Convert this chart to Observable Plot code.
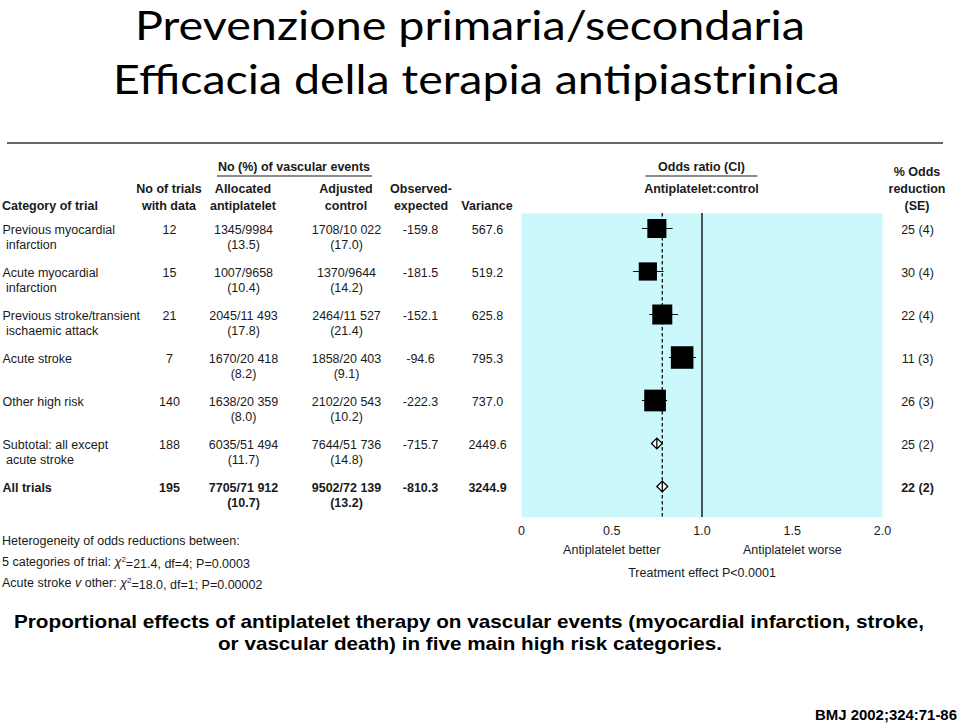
<!DOCTYPE html>
<html><head><meta charset="utf-8">
<script src="https://cdn.jsdelivr.net/npm/d3@7"></script>
<script src="https://cdn.jsdelivr.net/npm/@observablehq/plot@0.6"></script>
<style>
html,body{margin:0;padding:0;background:#fff;}
#page{position:relative;width:960px;height:723px;overflow:hidden;background:#fff;}
#chrome{position:absolute;left:0;top:0;}
#chart{position:absolute;left:0;top:145px;}
</style></head>
<body><div id="page"><svg id="chrome" width="960" height="723"></svg><div id="chart"></div></div>
<script>
// ---------- data ----------
const titleLines = ["Prevenzione primaria/secondaria", "Efficacia della terapia antipiastrinica"];
const captionLines = ["Proportional effects of antiplatelet therapy on vascular events (myocardial infarction, stroke,",
                      "or vascular death) in five main high risk categories."];
const citation = "BMJ 2002;324:71-86";

const categories = ["Previous myocardial\ninfarction", "Acute myocardial\ninfarction",
  "Previous stroke/transient\nischaemic attack", "Acute stroke", "Other high risk",
  "Subtotal: all except\nacute stroke", "All trials"];
const trialCounts = [12, 15, 21, 7, 140, 188, 195];
const apEvents = [1345, 1007, 2045, 1670, 1638, 6035, 7705];
const apTotal = [9984, 9658, 11493, 20418, 20359, 51494, 71912];
const apPct = [13.5, 10.4, 17.8, 8.2, 8.0, 11.7, 10.7];
const ctEvents = [1708, 1370, 2464, 1858, 2102, 7644, 9502];
const ctTotal = [10022, 9644, 11527, 20403, 20543, 51736, 72139];
const ctPct = [17.0, 14.2, 21.4, 9.1, 10.2, 14.8, 13.2];
const obsExp = [-159.8, -181.5, -152.1, -94.6, -222.3, -715.7, -810.3];
const variance = [567.6, 519.2, 625.8, 795.3, 737.0, 2449.6, 3244.9];
const oddsReduction = [25, 30, 22, 11, 26, 25, 22];
const reductionSE = [4, 4, 4, 3, 3, 2, 2];
const ciLow = [0.67, 0.62, 0.71, 0.82, 0.67, 0.72, 0.75];
const ciHigh = [0.84, 0.79, 0.87, 0.97, 0.81, 0.78, 0.81];
const rowKind = ["square", "square", "square", "square", "square", "diamond", "diamond"];
const boldRow = [false, false, false, false, false, false, true];

const axisTicks = [0, 0.5, 1, 1.5, 2];
const sideLabels = ["Antiplatelet better", "Antiplatelet worse"];
const sideAt = [0.5, 1.5];
const effectNote = "Treatment effect P<0.0001";

const hetTitle = "Heterogeneity of odds reductions between:";
const hetLabel = ["5 categories of trial: ", "Acute stroke "];
const hetChi = [21.4, 18.0];
const hetDf = [4, 1];
const hetP = ["0.0003", "0.00002"];

// ---------- helpers ----------
const fmtCount = n => n >= 10000 ? String(n).replace(/(\d+)(\d{3})$/, "$1 $2") : String(n);
const rows = categories.map((label, i) => ({
  id: String(i),
  label: label.replace("\n", "\n\u00a0"),
  trials: String(trialCounts[i]),
  ap: `${fmtCount(apEvents[i])}/${fmtCount(apTotal[i])}\n(${apPct[i].toFixed(1)})`,
  ct: `${fmtCount(ctEvents[i])}/${fmtCount(ctTotal[i])}\n(${ctPct[i].toFixed(1)})`,
  oe: obsExp[i].toFixed(1),
  vr: variance[i].toFixed(1),
  red: `${oddsReduction[i]} (${reductionSE[i]})`,
  or: 1 - oddsReduction[i] / 100,
  lo: ciLow[i], hi: ciHigh[i], variance: variance[i],
  kind: rowKind[i], bold: boldRow[i]
}));
const overallOR = rows[rows.length - 1].or;

// ---------- layout ----------
const W = 960, H = 450, ML = 521, MR = 78, MT = 68, MB = 78;
const FONT = "'Liberation Sans', Arial, Helvetica, sans-serif";
const colX = {label: 2, trials: 169, ap: 243, ct: 346, oe: 420, vr: 487, red: 917};

function column(field, x, anchor) {
  const base = {y: "id", text: field, frameAnchor: "left", dx: x - ML, textAnchor: anchor,
                lineAnchor: "top", dy: -4.5, lineHeight: 1.16, fill: "#1a1a1a"};
  return [
    Plot.text(rows.filter(d => !d.bold), base),
    Plot.text(rows.filter(d => d.bold), {...base, fontWeight: "bold"})
  ];
}

const diamondTick = {
  draw(context, size) {
    const r = Math.sqrt(size / Math.PI);
    context.moveTo(-r, 0); context.lineTo(0, -r); context.lineTo(r, 0); context.lineTo(0, r); context.closePath();
    context.moveTo(0, -r); context.lineTo(0, r);
  }
};

function headerMark(index, scales) {
  const sx = (scales && scales.x) ? scales.x : d3.scaleLinear([0, 2], [ML, W - MR]);
  const g = d3.create("svg:g").attr("fill", "#1a1a1a").attr("font-family", FONT);
  const hb = g.append("g").attr("font-weight", "bold").attr("font-size", 12.5);
  const T = (sel, x, y, s, anchor = "middle") =>
    sel.append("text").attr("x", x).attr("y", y).attr("dy", "0.36em").attr("text-anchor", anchor).text(s);
  // table headers
  T(hb, 294, 21, "No (%) of vascular events");
  g.append("line").attr("x1", 217).attr("x2", 372).attr("y1", 31).attr("y2", 31).attr("stroke", "#1a1a1a").attr("stroke-width", 1.2);
  T(hb, 2, 60, "Category of trial", "start");
  T(hb, colX.trials, 43, "No of trials"); T(hb, colX.trials, 60, "with data");
  T(hb, colX.ap, 43, "Allocated"); T(hb, colX.ap, 60, "antiplatelet");
  T(hb, colX.ct, 43, "Adjusted"); T(hb, colX.ct, 60, "control");
  T(hb, colX.oe + 1, 43, "Observed-"); T(hb, colX.oe + 1, 60, "expected");
  T(hb, colX.vr, 60, "Variance");
  const cx = sx(1);
  T(hb, cx, 21, "Odds ratio (CI)");
  g.append("line").attr("x1", cx - 56).attr("x2", cx + 56).attr("y1", 31).attr("y2", 31).attr("stroke", "#1a1a1a").attr("stroke-width", 1.2);
  T(hb, cx, 43, "Antiplatelet:control");
  T(hb, colX.red, 26, "% Odds"); T(hb, colX.red, 43, "reduction"); T(hb, colX.red, 60, "(SE)");
  // heterogeneity notes
  const hn = g.append("g").attr("font-size", 12.5);
  T(hn, 2, 395, hetTitle, "start");
  hetLabel.forEach((lab, i) => {
    const t = hn.append("text").attr("x", 2).attr("y", 416 + 21 * i).attr("dy", "0.36em").attr("text-anchor", "start");
    t.append("tspan").text(lab);
    if (i === 1) {
      t.append("tspan").attr("font-style", "italic").text("v");
      t.append("tspan").text(" other: ");
    }
    t.append("tspan").attr("font-style", "italic").text("\u03c7");
    t.append("tspan").attr("font-size", 8).attr("dy", "-0.45em").text("2");
    t.append("tspan").attr("dy", "0.45em").text(`=${hetChi[i].toFixed(1)}, df=${hetDf[i]}; P=${hetP[i]}`);
  });
  return g.node();
}

const squares = rows.filter(d => d.kind === "square");
const diamonds = rows.filter(d => d.kind === "diamond");

const chart = Plot.plot({
  width: W, height: H,
  marginLeft: ML, marginRight: MR, marginTop: MT, marginBottom: MB,
  style: {fontFamily: FONT, fontSize: "12.5px", color: "#1a1a1a", background: "transparent", overflow: "visible"},
  x: {domain: [0, 2], ticks: axisTicks, tickFormat: d => d === 0 ? "0" : d.toFixed(1), tickSize: 0, tickPadding: 9, label: null},
  y: {type: "point", domain: rows.map(d => d.id), range: [83, 341], padding: 0, axis: null},
  r: {type: "sqrt", domain: [0, 1000], range: [0, 14.27]},
  marks: [
    Plot.frame({fill: "#cbf9fb", stroke: "none"}),
    Plot.ruleX([overallOR], {stroke: "#111", strokeWidth: 1.3, strokeDasharray: "3.5,2.5"}),
    Plot.ruleX([1], {stroke: "#111", strokeWidth: 1.4}),
    Plot.ruleY(squares, {y: "id", x1: "lo", x2: "hi", stroke: "#111", strokeWidth: 1}),
    Plot.dot(squares, {x: "or", y: "id", r: "variance", symbol: "square", fill: "#000", stroke: "none"}),
    Plot.dot(diamonds, {x: "or", y: "id", r: 5.4, symbol: diamondTick, fill: "#fff", stroke: "#000", strokeWidth: 1.3}),
    Plot.text(sideLabels.map((t, i) => ({t, x: sideAt[i]})), {x: "x", text: "t", frameAnchor: "bottom", dy: 36, fill: "#1a1a1a"}),
    Plot.text([effectNote], {x: [1], text: d => d, frameAnchor: "bottom", dy: 59, fill: "#1a1a1a"}),
    ...column("label", colX.label, "start"),
    ...column("trials", colX.trials, "middle"),
    ...column("ap", colX.ap, "middle"),
    ...column("ct", colX.ct, "middle"),
    ...column("oe", colX.oe, "middle"),
    ...column("vr", colX.vr, "middle"),
    ...column("red", colX.red, "middle"),
    headerMark
  ]
});
document.getElementById("chart").appendChild(chart);

// ---------- page chrome: title, rule, caption, citation ----------
const chrome = d3.select("#chrome");
function titleText(s, cx, baseline, width) {
  return chrome.append("text").attr("x", cx).attr("y", baseline).attr("text-anchor", "middle")
    .attr("font-family", "Lato, 'Open Sans', sans-serif").attr("font-size", 40).attr("fill", "#000")
    .attr("textLength", width).attr("lengthAdjust", "spacingAndGlyphs").text(s);
}
titleText(titleLines[0], 470, 40, 670);
titleText(titleLines[1], 476.5, 94, 727);
chrome.append("line").attr("x1", 7).attr("x2", 943).attr("y1", 143).attr("y2", 143).attr("stroke", "#666").attr("stroke-width", 2);
chrome.append("text").attr("x", 469).attr("y", 628).attr("text-anchor", "middle")
  .attr("font-family", FONT).attr("font-weight", "bold").attr("font-size", 19)
  .attr("textLength", 910).attr("lengthAdjust", "spacingAndGlyphs").text(captionLines[0]);
chrome.append("text").attr("x", 470).attr("y", 650).attr("text-anchor", "middle")
  .attr("font-family", FONT).attr("font-weight", "bold").attr("font-size", 19)
  .attr("textLength", 504).attr("lengthAdjust", "spacingAndGlyphs").text(captionLines[1]);
chrome.append("text").attr("x", 957).attr("y", 720).attr("text-anchor", "end")
  .attr("font-family", FONT).attr("font-weight", "bold").attr("font-size", 14)
  .attr("textLength", 142).attr("lengthAdjust", "spacingAndGlyphs").text(citation);
</script>
</body></html>
